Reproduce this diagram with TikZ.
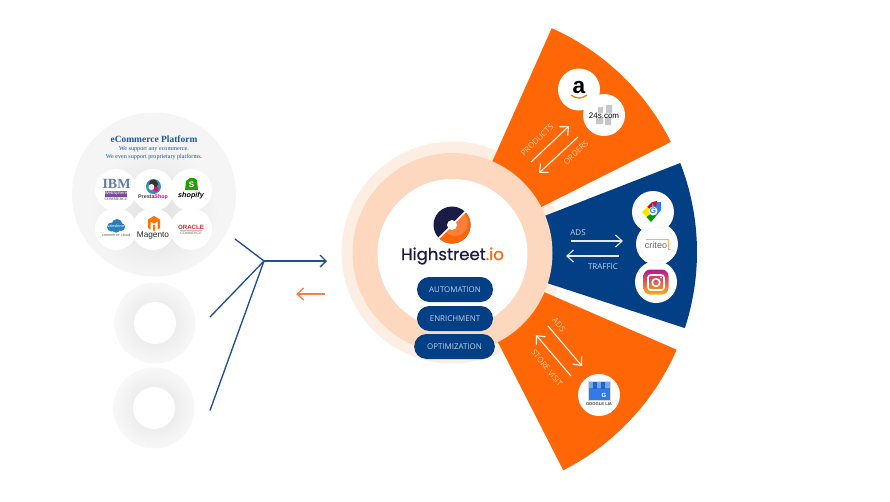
\documentclass[tikz,border=0pt]{standalone}
\usepackage{fontspec}
\usetikzlibrary{arrows.meta}
\setmainfont{Liberation Sans}
\newfontfamily\lserif{Liberation Serif}
\newfontfamily\opens{Open Sans}
\newfontfamily\popp[FakeBold=0.6]{Poppins}
\newcommand{\fsz}[1]{\fontsize{#1}{#1}\selectfont}
\definecolor{orng}{HTML}{FF6605}
\definecolor{navy}{HTML}{033F84}
\definecolor{peach}{HTML}{FDD8BF}
\definecolor{pale}{HTML}{FDEEE4}
\definecolor{linkblue}{HTML}{1F4F97}
\definecolor{arrorange}{HTML}{FA7F45}
\definecolor{lblo}{HTML}{FFC9A5}
\definecolor{lblb}{HTML}{C3D3E8}
\definecolor{btntxt}{HTML}{BBD2EC}
\definecolor{hsnavy}{HTML}{1A1C45}
\definecolor{ectitle}{HTML}{1A55A0}
\definecolor{ibmblue}{HTML}{5F7BA8}
\definecolor{ibmpurple}{HTML}{7B4A98}
\definecolor{igtop}{HTML}{B5178F}
\definecolor{igmid}{HTML}{EF3F3F}
\definecolor{igbot}{HTML}{FFAE12}
\definecolor{gblue}{HTML}{2F7BE8}
\definecolor{gawn}{HTML}{6FA8F0}
\definecolor{gawnd}{HTML}{2A62C0}
\tikzset{
  x=0.75pt,y=-0.75pt,
  logobg/.style={circle,fill=white,minimum size=31.5pt,inner sep=0pt},
  pill/.style={rectangle,fill=navy,rounded corners=9.3pt,minimum height=18.75pt,inner sep=0pt,text=btntxt,font=\opens\fsz{5.95}},
  whitearrow/.style={draw=#1,line width=0.85pt,-{Straight Barb[length=5pt,width=9pt,line width=0.85pt]}},
  whitearrow/.default=white,
  slbl/.style={inner sep=0pt,font=\opens\fsz{6}},
  txt/.style={inner sep=0pt},
  link/.style={draw=linkblue,line width=1pt},
}
\begin{document}
\begin{tikzpicture}
\fill[white] (0,0) rectangle (890,501);
\useasboundingbox (0,0) rectangle (890,501);
% left gray circles
\fill[black!4] (154,194.5) circle (82);
\shade[inner color=black!12,outer color=black!4] (154,212) circle (64);
\shade[inner color=black!11,outer color=black!3] (155,323) circle (40.5);
\fill[white] (155,323) circle (21);
\shade[inner color=black!11,outer color=black!3] (154,408) circle (40.5);
\fill[white] (154,408) circle (21);
\node[txt,text=ectitle,font=\lserif\bfseries\fsz{7.1}] (ectitle) at (154,139) {eCommerce Platform};
\node[txt,text=ectitle,font=\lserif\fsz{4.6}] (ecl1) at (154,149) {We support any ecommerce.};
\node[txt,text=ectitle,font=\lserif\fsz{4.6}] (ecl2) at (154,157) {We even support proprietary platforms.};
% logos: ecommerce
\node[logobg] (ibm) at (116,190) {};
\node[logobg] (presta) at (153,190) {};
\node[logobg] (shopify) at (191,190) {};
\node[logobg] (sforce) at (116,229) {};
\node[logobg] (magento) at (153,229) {};
\node[logobg] (oracle) at (191,229) {};
\begin{scope}[shift={(116,190)}]
  \node[txt,text=ibmblue,font=\lserif\bfseries\fsz{10.5}] at (0.5,-6) {IBM};
  \fill[ibmpurple] (-11,0.5) rectangle (11,6.5);
  \node[txt,text=white,font=\fsz{3.2}] at (0,3.5) {WebSphere};
  \node[txt,text=black!70,font=\lserif\fsz{3}] at (0,9.5) {COMMERCE};
\end{scope}
\begin{scope}[shift={(153,190)}]
  \fill[cyan!70!black] (0.5,-3.5) circle (7.5);
  \fill[black!80] (0.5,-6) circle (4.5);
  \fill[white!90!orange] (-1.5,-3) circle (3);
  \fill[magenta!80!red] (3,-1) circle (2.5);
  \node[txt,font=\bfseries\fsz{4}] at (0,7) {\textcolor{black!75}{Presta}\textcolor{magenta}{Shop}};
\end{scope}
\begin{scope}[shift={(191,190)}]
  \fill[green!55!black!85!yellow] (-5,-9) -- (-1,-12) -- (3,-12) -- (6,-10) -- (7,0) -- (-6,0) -- cycle;
  \node[txt,text=white,font=\bfseries\fsz{6}] at (0.5,-5.5) {S};
  \node[txt,text=black,font=\bfseries\itshape\fsz{5.4}] at (0,5.5) {shopify};
\end{scope}
\begin{scope}[shift={(116,229)}]
  \fill[cyan!70!blue!85!black] (-4.5,-2) circle (4.5) (1,-4.5) circle (5.5) (5,-2) circle (4) (0,-0.5) circle (4.2);
  \node[txt,text=white,font=\fsz{2.8}] at (0,-3) {salesforce};
  \node[txt,text=black!60,font=\fsz{2.9}] at (0,6.5) {commerce cloud};
\end{scope}
\begin{scope}[shift={(153,229)}]
  \fill[orange!90!red] (1,-13) -- (7,-9.5) -- (7,-1) -- (4.5,0.5) -- (4.5,-7.5) -- (1,-5.5) -- (-2.5,-7.5) -- (-2.5,0.5) -- (-5,-1) -- (-5,-9.5) -- cycle;
  \fill[orange!90!red] (0,-4.5) -- (1,-4) -- (2,-4.5) -- (2,1) -- (1,2) -- (0,1) -- cycle;
  \node[txt,text=black!85,font=\fsz{6.2}] at (0,6.2) {Magento};
\end{scope}
\begin{scope}[shift={(191,229)}]
  \node[txt,text=red!80!black!85,font=\bfseries\fsz{4.6}] at (0,-2) {ORACLE};
  \draw[black!25,line width=0.3pt] (-11,1.5) -- (11,1.5);
  \node[txt,text=black!60,font=\fsz{2.7}] at (0,4) {COMMERCE};
\end{scope}
% connectors
\coordinate (hub) at (264,261);
\coordinate (ecEnd) at (235,239);
\coordinate (d1End) at (210,317);
\coordinate (d2End) at (210,410.5);
\coordinate (outEnd) at (327,261);
\coordinate (backS) at (325,294);
\coordinate (backE) at (296,294);
\draw[link] (ecEnd) -- (hub);
\draw[link] (d1End) -- (hub);
\draw[link] (d2End) -- (hub);
\draw[link,-{Straight Barb[length=4.5pt,width=9pt,line width=1pt]}] (hub) -- (outEnd);
\draw[draw=arrorange,line width=1pt,-{Straight Barb[length=5pt,width=9pt,line width=1pt]}] (backS) -- (backE);
% rings and sectors
\coordinate (c) at (452,252);
\fill[pale] (452.5,252.5) circle (111);
\fill[orng] (c) -- plot[domain=-66:-26.7,samples=40] ({452+245*cos(\x)},{252+245*sin(\x)}) -- cycle;
\fill[navy] (c) -- plot[domain=-21.3:18.1,samples=40] ({452+245*cos(\x)},{252+245*sin(\x)}) -- cycle;
\fill[orng] (c) -- plot[domain=23.5:63,samples=40] ({452+245*cos(\x)},{252+245*sin(\x)}) -- cycle;
\fill[peach] (452.5,253) circle (100);
\fill[white] (452.5,254) circle (75);
% Highstreet logo
\begin{scope}[shift={(452,225)}]
  \fill[hsnavy] (0,0) circle (18.5);
  \begin{scope}
    \clip (-20,20) -- (20,-20) -- (20,20) -- cycle;
    \fill[orng] (0,0) circle (18.5);
    \fill[arrorange!85!orange] (3,-2) circle (13);
  \end{scope}
  \draw[white,line width=1.3pt] (-15,15) -- (15,-15);
  \fill[white] (0,0) circle (5);
\end{scope}
\node[txt,font=\popp\fsz{12.4}] (hs) at (452.5,256) {\textcolor{hsnavy}{Highstreet}\textcolor{orng}{.io}};
\node[pill,minimum width=57pt] (auto) at (455,289.5) {AUTOMATION};
\node[pill,minimum width=57pt] (enrich) at (455,318.5) {ENRICHMENT};
\node[pill,minimum width=60.5pt] (optim) at (454.5,346.5) {OPTIMIZATION};
% top orange sector
\node[logobg] (amazon) at (579,89.5) {};
\node[logobg] (s24) at (604,115) {};
\begin{scope}[shift={(579,89.5)}]
  \node[txt,text=black,font=\bfseries\fsz{17}] at (0,-2) {a};
  \draw[orange,line width=1pt] (-8,5.5) .. controls (-3,9.5) and (3,9.5) .. (8,5.5);
\end{scope}
\begin{scope}[shift={(604,115)}]
  \fill[black!22] (-6,-8) rectangle (-1,-2) (2,-10) rectangle (8,-2) (-8,3) rectangle (-1,9) (1,2) rectangle (7,10);
  \node[txt,text=black,font=\fsz{6}] at (0,0.5) {24s.com};
\end{scope}
\coordinate (pS) at (531,162); \coordinate (pE) at (569,126);
\coordinate (oS) at (578,137); \coordinate (oE) at (539,173);
\draw[whitearrow=white!90!orange] (pS) -- (pE);
\draw[whitearrow=white!90!orange] (oS) -- (oE);
\node[slbl,text=lblo,rotate=44] (lprod) at (537,140) {PRODUCTS};
\node[slbl,text=lblo,rotate=44] (lord) at (576,153) {ORDERS};
% blue sector
\node[logobg] (gtag) at (653,212) {};
\node[logobg] (criteo) at (657,244) {};
\node[logobg] (insta) at (656,282) {};
\begin{scope}[shift={(653,212)}]
  \fill[red!85!black!95] (0,0) -- (-1,-10) -- (-6,-5) -- cycle;
  \fill[yellow!85!orange] (0,0) -- (-6,-5) -- (-11,0) -- (-6.5,5) -- cycle;
  \fill[green!60!black] (0,0) -- (-6.5,5) -- (-2,10) -- (3.5,3.5) -- cycle;
  \fill[gblue] (0,0) -- (3.5,3.5) -- (8,-2) -- (8,-10) -- (-1,-10) -- cycle;
  \fill[red!85!black!95] (-1,-10) -- (4,-11) -- (3,-5) -- cycle;
  \fill[white] (0,-1) circle (4.5);
  \node[txt,text=gblue,font=\bfseries\fsz{6}] at (0,-1) {G};
\end{scope}
\begin{scope}[shift={(657,244)}]
  \draw[black!6,line width=0.4pt] (0,0) circle (17);
  \node[txt,text=black!60,font=\fsz{6.8}] at (-1,1) {criteo};
  \draw[orange!60!white,line width=0.4pt] (-11,-5) -- (11,-5) -- (11,5) -- (14,5);
\end{scope}
\begin{scope}[shift={(656,282)}]
  \shade[rounded corners=5pt,top color=igtop,middle color=igmid,bottom color=igbot] (-12.5,-12.5) rectangle (12.5,12.5);
  \draw[white,line width=1.2pt,rounded corners=2pt] (-8,-7) rectangle (8,8);
  \draw[white,line width=1.2pt] (0,0.5) circle (3.8);
  \fill[white] (5,-4.5) circle (1.1);
\end{scope}
\coordinate (aS) at (571,241); \coordinate (aE) at (623,241);
\coordinate (tS) at (619,256); \coordinate (tE) at (566,256);
\draw[whitearrow=lblb!50!white] (aS) -- (aE);
\draw[whitearrow=lblb!50!white] (tS) -- (tE);
\node[slbl,text=lblb] (lads) at (578,233) {ADS};
\node[slbl,text=lblb] (ltraf) at (603,267) {TRAFFIC};
% bottom orange sector
\node[logobg] (glia) at (599,395) {};
\begin{scope}[shift={(599,395)}]
  \fill[gblue] (-10,-7) rectangle (10.5,5);
  \fill[gawn] (-10,-13) rectangle (10.5,-7);
  \foreach \xa/\xb in {-6/-2,2/6}{\fill[gawnd] (\xa,-13) rectangle (\xb,-6);}
  \draw[black!15,line width=0.3pt] (-10.5,-13.5) rectangle (11,5.5);
  \node[txt,text=white,font=\bfseries\fsz{4.5}] at (5,0) {G};
  \node[txt,text=black!75,font=\bfseries\fsz{3.1}] at (0,9) {GOOGLE LIA};
\end{scope}
\coordinate (bS) at (548,326); \coordinate (bE) at (582,366);
\coordinate (vS) at (571,376); \coordinate (vE) at (536,335);
\draw[whitearrow=white!90!orange] (bS) -- (bE);
\draw[whitearrow=white!90!orange] (vS) -- (vE);
\node[slbl,text=lblo,rotate=-50] (lads2) at (559,325) {ADS};
\node[slbl,text=lblo,rotate=-51] (lvisit) at (547,368) {STORE VISIT};
\end{tikzpicture}
\end{document}
